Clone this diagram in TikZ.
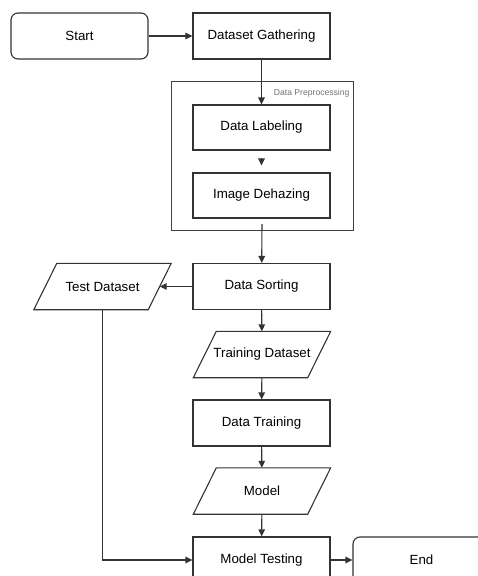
\documentclass[tikz,border=0pt]{standalone}
\usepackage{fontspec}
\setmainfont{Liberation Sans}
\usetikzlibrary{arrows.meta}
\begin{document}
\begin{tikzpicture}[x=1pt,y=-1pt,
  every node/.style={font=\fontsize{13.3}{15}\selectfont, text=black},
  line/.style={draw=black!80, line width=1.1pt},
  proc/.style={line, rectangle, minimum width=137pt, minimum height=46pt, inner sep=0pt},
  term/.style={proc, rounded corners=7pt},
  io/.style={rectangle, minimum width=137pt, minimum height=46pt, inner sep=0pt},
  group/.style={draw=black!75, line width=1pt, rectangle, minimum width=182pt, minimum height=149.5pt, inner sep=0pt},
  flow/.style={line, -{Triangle[length=7pt,width=6.5pt]}}
]
\useasboundingbox (0,0) rectangle (478,576);

% parallelogram outline around an io node, slanted to the right
\newcommand\slantbox[1]{%
  \draw[line, line join=miter] ([xshift=23pt]#1.north west) -- (#1.north east)
    -- ([xshift=-23pt]#1.south east) -- (#1.south west) -- cycle;}

% preprocessing group
\node[group] (prep) at (262,155.75) {};
\node[anchor=east, font=\fontsize{8.6}{10}\selectfont, text=black!55] (preplabel) at (353,93) {Data Preprocessing};

% process steps
\node[term] (start) at (79.5,36) {Start};
\node[proc] (gather) at (261.5,36) {Dataset Gathering};
\node[proc, minimum height=45pt] (label) at (261.5,127.5) {Data Labeling};
\node[proc, minimum height=45pt] (dehaze) at (261.5,195.5) {Image Dehazing};
\node[proc] (sort) at (261.5,286.5) {Data Sorting};
\node[io] (testset) at (102.5,286.5) {Test Dataset};
\node[io] (trainset) at (262,354.5) {Training Dataset};
\node[proc] (train) at (261.5,423) {Data Training};
\node[io] (model) at (262,491) {Model};
\node[proc] (mtest) at (261.5,560) {Model Testing};
\node[term] (end) at (421.5,560) {End};

\slantbox{testset}
\slantbox{trainset}
\slantbox{model}

% connectors
\draw[flow] (start) -- (gather);
\draw[flow] (gather) -- (label);
\draw[flow, shorten <=7pt, shorten >=7pt] (label) -- (dehaze);
\draw[flow] (prep.south) ++(0,-7) -- (sort);
\draw[flow] (sort.west) -- ([xshift=-11.5pt]testset.east);
\draw[flow] (sort) -- (trainset);
\draw[flow] (trainset) -- (train);
\draw[flow] (train) -- (model);
\draw[flow] (model) -- (mtest);
\draw[flow] (testset.south) |- (mtest.west);
\draw[flow] (mtest) -- (end);
\end{tikzpicture}
\end{document}
